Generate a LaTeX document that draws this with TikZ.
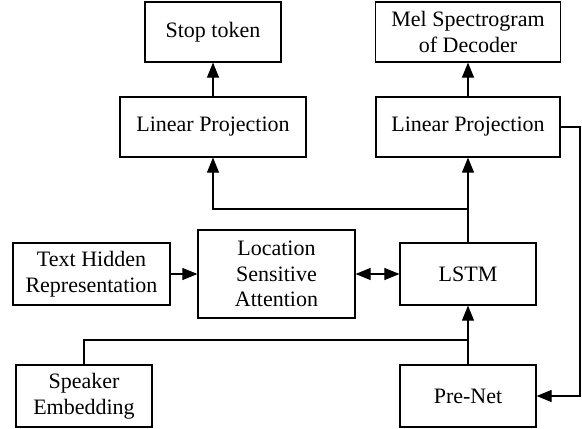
\documentclass[tikz,border=0pt]{standalone}
\usepackage{fontspec}
\setmainfont{Liberation Serif}
\usetikzlibrary{arrows.meta}
\begin{document}
\begin{tikzpicture}[x=1pt,y=-1pt,
  box/.style={draw, line width=1.2pt, align=center, inner sep=0pt,
    font=\fontsize{22}{25.5}\selectfont},
  conn/.style={line width=1.1pt},
  tip/.tip={Triangle[length=15pt,width=12pt]},
  arr/.style={conn, -tip},
  darr/.style={conn, tip-tip}]
  \useasboundingbox (0,0) rectangle (582,429);

  % boxes
  \node[box, minimum width=136pt, minimum height=60pt] (stop) at (213,32) {Stop token};
  \node[box, minimum width=185pt, minimum height=60pt] (mel) at (468,32) {Mel Spectrogram\\of Decoder};
  \node[box, minimum width=186pt, minimum height=60pt] (lp1) at (213,127) {Linear Projection};
  \node[box, minimum width=184pt, minimum height=60pt] (lp2) at (468,127) {Linear Projection};
  \node[box, minimum width=157pt, minimum height=62pt] (text) at (91.5,274) {Text Hidden\\Representation};
  \node[box, minimum width=157pt, minimum height=88pt] (loc) at (276.5,274) {Location\\Sensitive\\Attention};
  \node[box, minimum width=136pt, minimum height=62pt] (lstm) at (468,274) {LSTM};
  \node[box, minimum width=136pt, minimum height=62pt] (spk) at (84,396) {Speaker\\Embedding};
  \node[box, minimum width=136pt, minimum height=62pt] (prenet) at (468,396) {Pre-Net};

  % junction and turning points
  \coordinate (jtop) at (468,209);
  \coordinate (jbot) at (468,340);
  \coordinate (rt) at (580,127);

  % connectors
  \draw[arr] (lp1.north) -- (stop.south);
  \draw[arr] (lp2.north) -- (mel.south);
  \draw[arr] (lstm.north) -- (lp2.south);
  \draw[arr] (jtop) -| (lp1.south);
  \draw[arr] (text.east) -- (loc.west);
  \draw[darr] (loc.east) -- (lstm.west);
  \draw[arr] (prenet.north) -- (lstm.south);
  \draw[conn] (spk.north) |- (jbot);
  \draw[arr] (lp2.east) -- (rt) |- (prenet.east);
\end{tikzpicture}
\end{document}
